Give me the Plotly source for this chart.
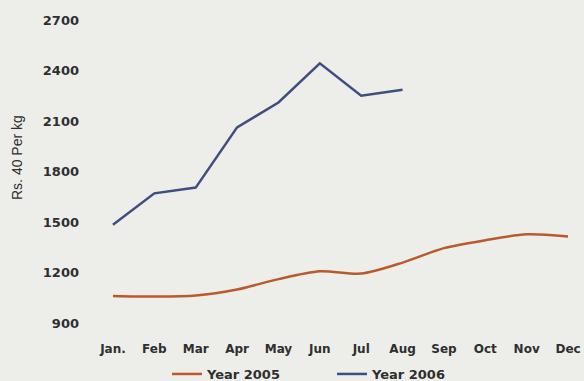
import plotly.graph_objects as go

months = ["Jan.", "Feb", "Mar", "Apr", "May", "Jun", "Jul", "Aug", "Sep", "Oct", "Nov", "Dec"]
price_2005 = [1062, 1058, 1064, 1100, 1162, 1208, 1195, 1260, 1346, 1393, 1428, 1415]
price_2006 = [1485, 1672, 1706, 2064, 2212, 2445, 2252, 2288]
y_ticks = [900, 1200, 1500, 1800, 2100, 2400, 2700]

BG = "#edeeea"
INK = "#2f2f2f"
BOLD_FONT = "DejaVu Sans, Verdana, sans-serif"

fig = go.Figure()
fig.add_trace(go.Scatter(
    x=list(range(len(months))), y=price_2005, mode="lines", name="Year 2005",
    line=dict(color="#b95a2c", width=2.5, shape="spline", smoothing=0.8),
))
fig.add_trace(go.Scatter(
    x=list(range(len(price_2006))), y=price_2006, mode="lines", name="Year 2006",
    line=dict(color="#3c4f7e", width=2.5),
))

fig.update_layout(
    width=584, height=381,
    margin=dict(l=92, r=0, t=12, b=41, autoexpand=False),
    paper_bgcolor=BG, plot_bgcolor=BG,
    font=dict(family="Liberation Sans, Arial, sans-serif", color=INK),
    showlegend=True,
    legend=dict(
        orientation="h", xref="container", yref="paper",
        x=167 / 584, xanchor="left", y=-34 / 328, yanchor="middle",
        bgcolor="rgba(0,0,0,0)",
        font=dict(size=13, family=BOLD_FONT, color=INK, weight="bold"),
        entrywidth=120, entrywidthmode="pixels", itemwidth=30,
    ),
    xaxis=dict(
        range=[-0.507, 11.386], tickmode="array",
        tickvals=list(range(len(months))), ticktext=months,
        showgrid=False, zeroline=False, showline=False,
        ticks="", tickfont=dict(size=12, family=BOLD_FONT, weight="bold", color=INK),
        ticklabelstandoff=0,
    ),
    yaxis=dict(
        range=[800, 2750], tickmode="array", tickvals=y_ticks,
        showgrid=False, zeroline=False, showline=False,
        ticks="", tickfont=dict(size=13, family=BOLD_FONT, weight="bold", color=INK),
        ticklabelstandoff=12,
    ),
    annotations=[dict(
        text="Rs. 40 Per kg", textangle=-90, showarrow=False,
        xref="paper", yref="paper", x=-(92 - 17) / 492, y=(340 - 158) / 328,
        xanchor="center", yanchor="middle",
        font=dict(size=14, color=INK, family="Liberation Sans, Arial, sans-serif"),
    )],
)

fig.write_html("out.html")
